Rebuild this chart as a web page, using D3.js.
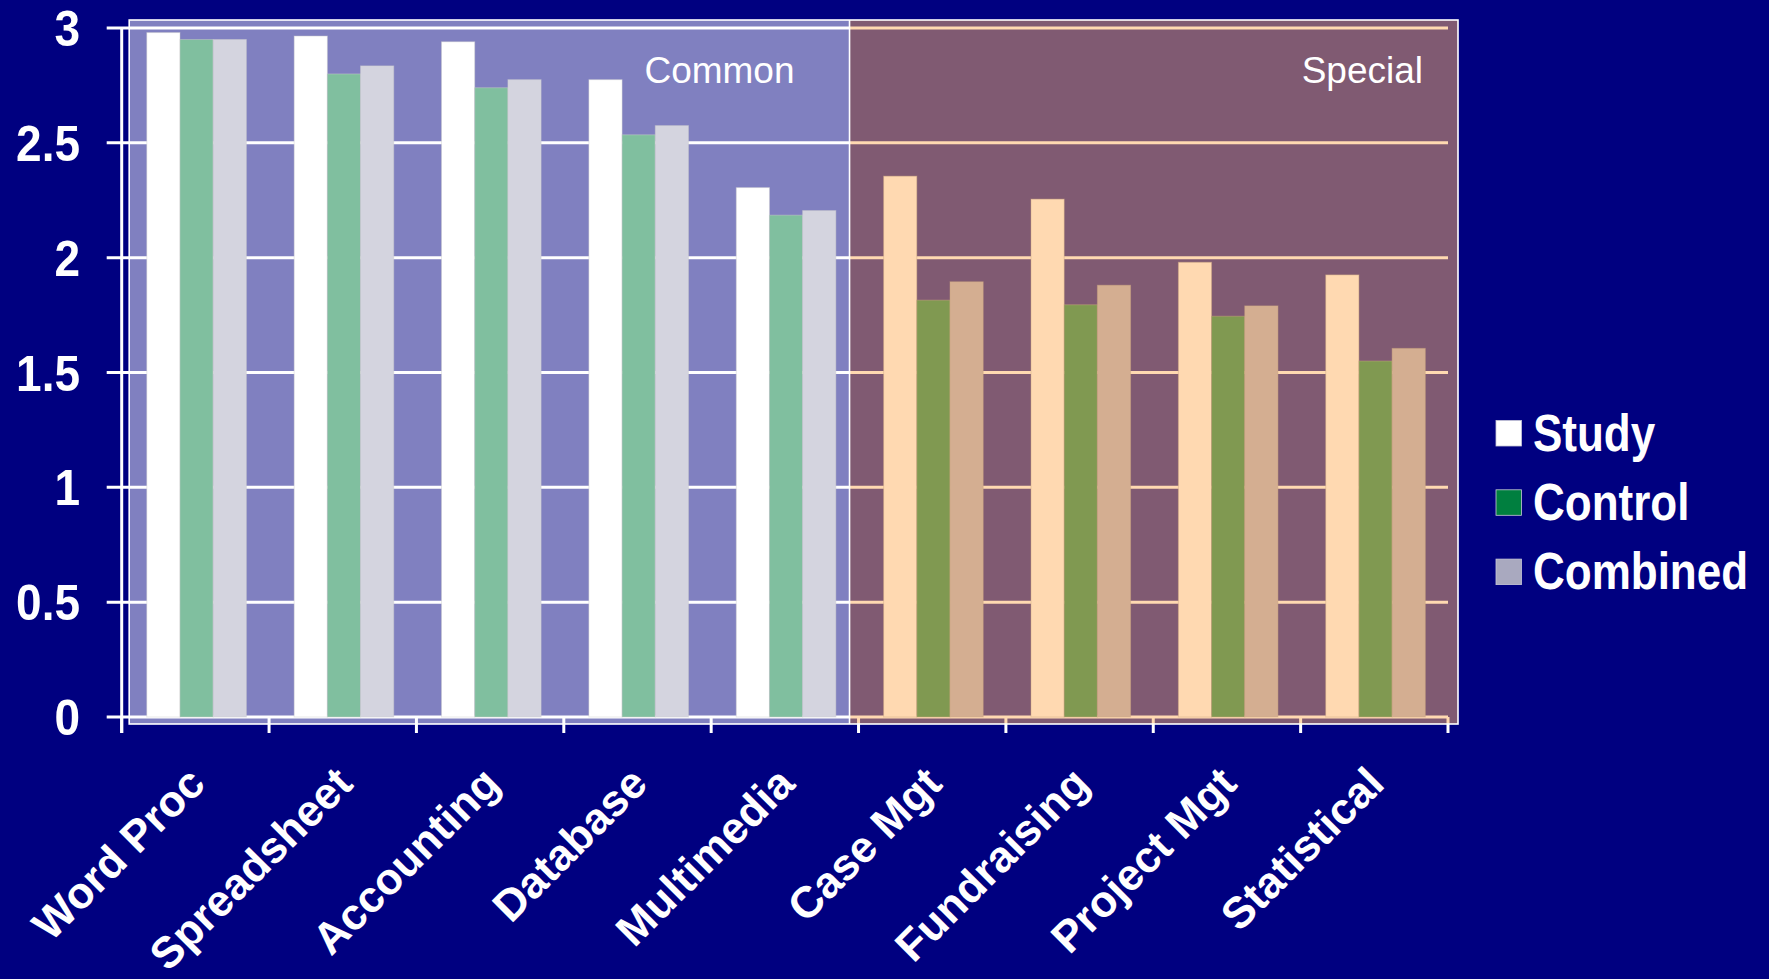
<!DOCTYPE html>
<html>
<head>
<meta charset="utf-8">
<script src="https://cdn.jsdelivr.net/npm/d3@7"></script>
<style>
  html, body { margin: 0; padding: 0; background: #000080; }
  svg { display: block; }
  text { font-family: "Liberation Sans", Arial, sans-serif; fill: #ffffff; }
</style>
</head>
<body>
<svg id="chart" width="1769" height="979"></svg>
<script>
// ---- data ----
const categories = ["Word Proc", "Spreadsheet", "Accounting", "Database", "Multimedia",
                    "Case Mgt", "Fundraising", "Project Mgt", "Statistical"];
const seriesNames = ["Study", "Control", "Combined"];
const study    = [2.98, 2.965, 2.94, 2.775, 2.305, 2.355, 2.255, 1.98, 1.925];
const control  = [2.95, 2.80, 2.74, 2.535, 2.185, 1.815, 1.795, 1.745, 1.55];
const combined = [2.95, 2.835, 2.775, 2.575, 2.205, 1.895, 1.88, 1.79, 1.605];
const yTicks = [0, 0.5, 1, 1.5, 2, 2.5, 3];
const yTickLabels = ["0", "0.5", "1", "1.5", "2", "2.5", "3"];
const groupLabels = ["Common", "Special"];
const groupFirst = ["Word Proc", "Case Mgt"];

// ---- styles ----
const seriesColors = ["#ffffff", "#007f3f", "#a9a9bf"];
const groupTints = ["#ffffff", "#ffb464"];

const svg = d3.select("#chart");
svg.append("rect").attr("width", 1769).attr("height", 979).attr("fill", "#000080");

const x = d3.scaleBand().domain(categories).range([121.7, 1448]).paddingInner(0).paddingOuter(0);
const xs = d3.scaleBand().domain(seriesNames).range([0, x.bandwidth()]).paddingInner(0).paddingOuter(0.72);
const y = d3.scaleLinear().domain([0, 3]).range([717, 28]);

const values = [study, control, combined];
const x0 = x.range()[0], x1 = x.range()[1];

// gridlines (incl. outer tick marks on the left)
svg.append("g").selectAll("line").data(yTicks).join("line")
  .attr("x1", x0 - 15).attr("x2", x1)
  .attr("y1", d => y(d)).attr("y2", d => y(d))
  .attr("stroke", "#ffffff").attr("stroke-width", 3);

// y axis line
svg.append("line").attr("x1", x0).attr("x2", x0)
  .attr("y1", y(3)).attr("y2", y(0) + 16)
  .attr("stroke", "#ffffff").attr("stroke-width", 3);

// x axis tick marks (category boundaries)
const boundaries = categories.map(c => x(c)).concat([x1]);
svg.append("g").selectAll("line").data(boundaries).join("line")
  .attr("x1", d => d).attr("x2", d => d)
  .attr("y1", y(0)).attr("y2", y(0) + 16)
  .attr("stroke", "#ffffff").attr("stroke-width", 3);

// bars
const barData = [];
categories.forEach((c, i) => seriesNames.forEach((s, j) => barData.push({c, s, j, v: values[j][i]})));
svg.append("g").selectAll("rect").data(barData).join("rect")
  .attr("x", d => x(d.c) + xs(d.s) + 1.2)
  .attr("width", xs.bandwidth())
  .attr("y", d => y(d.v))
  .attr("height", d => y(0) - y(d.v))
  .attr("fill", d => seriesColors[d.j])
  .attr("stroke", "#9a9a9a").attr("stroke-opacity", 0.45).attr("stroke-width", 1);

// tinted group overlays
const ovTop = y(3) - 8, ovBottom = y(0) + 7;
const ovEdges = [x0 + 7.5, x(groupFirst[1]) - 9, x1 + 10];
groupLabels.forEach((g, i) => {
  svg.append("rect")
    .attr("x", ovEdges[i]).attr("y", ovTop)
    .attr("width", ovEdges[i + 1] - ovEdges[i]).attr("height", ovBottom - ovTop)
    .attr("fill", groupTints[i]).attr("fill-opacity", 0.5);
});
svg.append("rect")
  .attr("x", ovEdges[0]).attr("y", ovTop)
  .attr("width", ovEdges[2] - ovEdges[0]).attr("height", ovBottom - ovTop)
  .attr("fill", "none").attr("stroke", "#ffffff").attr("stroke-width", 1.6);
svg.append("line")
  .attr("x1", ovEdges[1]).attr("x2", ovEdges[1]).attr("y1", ovTop).attr("y2", ovBottom)
  .attr("stroke", "#ffffff").attr("stroke-width", 1.6);

// group labels
const groupLabelX = [ovEdges[1] - 55, ovEdges[2] - 35];
groupLabels.forEach((g, i) => {
  svg.append("text").attr("x", groupLabelX[i]).attr("y", 82.5)
    .attr("text-anchor", "end").attr("font-size", 37).text(g);
});

// y tick labels
svg.append("g").selectAll("text").data(yTicks).join("text")
  .attr("transform", d => `translate(80,${y(d)}) scale(1,1.1)`)
  .attr("dy", "0.358em")
  .attr("text-anchor", "end").attr("font-size", 46).attr("font-weight", "bold")
  .text((d, i) => yTickLabels[i]);

// x labels
svg.append("g").selectAll("text").data(categories).join("text")
  .attr("transform", d => `translate(${x(d) + x.bandwidth() / 2 + 12},786) rotate(-45)`)
  .attr("text-anchor", "end").attr("font-size", 44).attr("font-weight", "bold")
  .text(d => d);

// legend
const legY0 = 433.3, legStep = 69.3;
const leg = svg.append("g").selectAll("g").data(seriesNames).join("g")
  .attr("transform", (d, i) => `translate(1496,${legY0 + i * legStep})`);
leg.append("rect").attr("x", 0).attr("y", -12.8).attr("width", 25.5).attr("height", 25.5)
  .attr("fill", (d, i) => seriesColors[i]).attr("stroke", "#c8c8d8").attr("stroke-width", 0.8);
leg.append("text").attr("transform", "translate(37,17.5) scale(1,1.16)")
  .attr("font-size", 44).attr("font-weight", "bold").text(d => d);
</script>
</body>
</html>
